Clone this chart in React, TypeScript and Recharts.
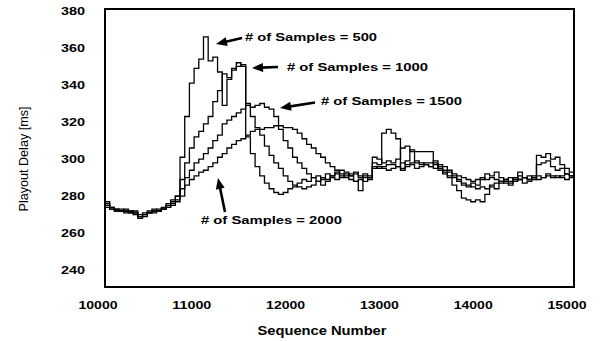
import React from 'react';
import { LineChart, Line, XAxis, YAxis, ReferenceArea } from 'recharts';

const sequence = [
  10000, 10050, 10100, 10150, 10200, 10250, 10300, 10350, 10400, 10450,
  10500, 10550, 10600, 10650, 10700, 10750, 10800, 10850, 10900, 10950,
  11000, 11050, 11100, 11150, 11200, 11250, 11300, 11350, 11400, 11450,
  11500, 11550, 11600, 11650, 11700, 11750, 11800, 11850, 11900, 11950,
  12000, 12050, 12100, 12150, 12200, 12250, 12300, 12350, 12400, 12450,
  12500, 12550, 12600, 12650, 12700, 12750, 12800, 12850, 12900, 12950,
  13000, 13050, 13100, 13150, 13200, 13250, 13300, 13350, 13400, 13450,
  13500, 13550, 13600, 13650, 13700, 13750, 13800, 13850, 13900, 13950,
  14000, 14050, 14100, 14150, 14200, 14250, 14300, 14350, 14400, 14450,
  14500, 14550, 14600, 14650, 14700, 14750, 14800, 14850, 14900, 14950,
  15000,
];

const samples500 = [
  275, 273, 272, 272, 271, 271, 270, 268, 269, 271,
  272, 271, 272, 275, 276, 279, 300, 322, 340, 348,
  353, 365, 352, 354, 346, 328, 342, 347, 349, 350,
  311, 302, 295, 290, 286, 283, 281, 280, 281, 283,
  284, 286, 288, 287, 289, 290, 288, 291, 290, 292,
  289, 291, 290, 287, 282, 289, 288, 297, 296, 313,
  315, 313, 310, 293, 298, 304, 303, 303, 303, 303,
  296, 294, 291, 289, 285, 282, 278, 277, 276, 277,
  276, 280, 284, 283, 286, 287, 286, 288, 292, 289,
  288, 290, 301, 300, 302, 299, 300, 296, 294, 292,
  294,
];

const samples1000 = [
  274, 272, 272, 271, 271, 270, 270, 267, 268, 270,
  271, 272, 273, 274, 277, 279, 288, 297, 305, 311,
  314, 318, 322, 330, 336, 345, 343, 348, 351, 349,
  329, 322, 316, 312, 306, 301, 297, 294, 290, 287,
  285, 284, 283, 284, 285, 287, 289, 288, 290, 291,
  293, 292, 290, 291, 289, 290, 289, 300, 299, 297,
  298, 297, 299, 305, 306, 303, 297, 296, 297, 297,
  298, 295, 293, 292, 290, 287, 285, 284, 286, 285,
  288, 291, 290, 292, 289, 286, 285, 287, 288, 286,
  287, 288, 296, 297, 298, 295, 293, 294, 291, 290,
  293,
];

const samples1500 = [
  276, 273, 271, 271, 272, 271, 269, 268, 270, 270,
  271, 271, 272, 273, 275, 277, 283, 289, 293, 297,
  299, 302, 305, 309, 312, 318, 320, 322, 324, 326,
  328, 327, 328, 329, 327, 326, 322, 315, 309, 305,
  300, 297, 294, 291, 289, 287, 285, 287, 289, 288,
  290, 289, 288, 287, 288, 287, 289, 295, 294, 295,
  296, 296, 295, 297, 296, 297, 298, 297, 296, 295,
  297, 293, 292, 290, 289, 288, 286, 285, 284, 283,
  284, 283, 285, 286, 287, 288, 287, 289, 288, 289,
  290, 289, 290, 289, 291, 290, 289, 290, 291, 290,
  289,
];

const samples2000 = [
  273, 272, 271, 271, 270, 270, 271, 269, 269, 270,
  270, 271, 272, 273, 274, 276, 279, 285, 288, 290,
  292, 293, 295, 297, 300, 302, 305, 307, 309, 310,
  312, 314, 315, 315, 316, 316, 317, 317, 316, 316,
  315, 313, 310, 307, 305, 302, 300, 297, 295, 293,
  291, 290, 291, 292, 290, 291, 290, 294, 295, 294,
  293, 294, 295, 294, 295, 296, 294, 295, 296, 295,
  294, 296, 295, 293, 291, 290, 289, 288, 287, 288,
  289, 288, 289, 288, 287, 288, 289, 288, 290, 289,
  288, 289, 288, 289, 290, 289, 290, 289, 288, 289,
  290,
];

const xTicks = [10000, 11000, 12000, 13000, 14000, 15000];
const yTicks = [240, 260, 280, 300, 320, 340, 360, 380];

const data = sequence.map((seq, i) => ({
  seq,
  s500: samples500[i],
  s1000: samples1000[i],
  s1500: samples1500[i],
  s2000: samples2000[i],
}));

const FONT = '"Liberation Sans", Arial, Helvetica, sans-serif';

const XTick = (props: any) => {
  const { x, payload } = props;
  const label = String(payload.value);
  return (
    <text
      x={x - 7}
      y={309}
      textAnchor="middle"
      fontFamily={FONT}
      fontWeight="bold"
      fontSize={11}
      fill="#000"
      textLength={label.length * 7.8}
      lengthAdjust="spacingAndGlyphs"
    >
      {label}
    </text>
  );
};

const YTick = (props: any) => {
  const { y, payload } = props;
  const label = String(payload.value);
  return (
    <text
      x={85}
      y={y + 6}
      textAnchor="end"
      fontFamily={FONT}
      fontWeight="bold"
      fontSize={11}
      fill="#000"
      textLength={label.length * 8}
      lengthAdjust="spacingAndGlyphs"
    >
      {label}
    </text>
  );
};

const Arrow = ({ x1, y1, x2, y2 }: { x1: number; y1: number; x2: number; y2: number }) => {
  const dx = x2 - x1;
  const dy = y2 - y1;
  const len = Math.sqrt(dx * dx + dy * dy);
  const ux = dx / len;
  const uy = dy / len;
  const hl = 11;
  const hw = 4.5;
  const bx = x2 - ux * hl;
  const by = y2 - uy * hl;
  const pts = `${x2},${y2} ${bx - uy * hw},${by + ux * hw} ${bx + uy * hw},${by - ux * hw}`;
  return (
    <g>
      <line x1={x1} y1={y1} x2={bx + ux * 2} y2={by + uy * 2} stroke="#000" strokeWidth={2.6} />
      <polygon points={pts} fill="#000" />
    </g>
  );
};

const Note = ({ x, y, w, text }: { x: number; y: number; w: number; text: string }) => (
  <text
    x={x}
    y={y}
    fontFamily={FONT}
    fontWeight="bold"
    fontSize={11}
    fill="#000"
    textLength={w}
    lengthAdjust="spacingAndGlyphs"
  >
    {text}
  </text>
);

export default function App() {
  return (
    <div style={{ position: 'absolute', left: 0, top: 0, width: 611, height: 341, background: '#fff' }}>
      <LineChart
        width={611}
        height={341}
        data={data}
        margin={{ top: 9, right: 37, bottom: 24, left: 45 }}
      >
        <XAxis
          dataKey="seq"
          type="number"
          domain={[10000, 15000]}
          ticks={xTicks}
          axisLine={false}
          tickLine={false}
          height={30}
          tick={<XTick />}
          interval={0}
        />
        <YAxis
          type="number"
          domain={[230, 380]}
          ticks={yTicks}
          axisLine={false}
          tickLine={false}
          width={60}
          tick={<YTick />}
          interval={0}
        />
        <Line type="stepAfter" dataKey="s500" stroke="#000" strokeWidth={1.3} dot={false} isAnimationActive={false} />
        <Line type="stepAfter" dataKey="s1000" stroke="#000" strokeWidth={1.3} dot={false} isAnimationActive={false} />
        <Line type="stepAfter" dataKey="s1500" stroke="#000" strokeWidth={1.3} dot={false} isAnimationActive={false} />
        <Line type="stepAfter" dataKey="s2000" stroke="#000" strokeWidth={1.3} dot={false} isAnimationActive={false} />
        <ReferenceArea
          x1={10000}
          x2={15000}
          y1={230}
          y2={380}
          fill="none"
          fillOpacity={0}
          stroke="#000"
          strokeWidth={2}
          strokeOpacity={1}
        />
      </LineChart>
      <svg
        width={611}
        height={341}
        style={{ position: 'absolute', left: 0, top: 0, pointerEvents: 'none' }}
      >
        <text
          transform="translate(28,159) rotate(-90)"
          textAnchor="middle"
          fontFamily={FONT}
          fontSize={12.5}
          fill="#000"
          textLength={105}
          lengthAdjust="spacingAndGlyphs"
        >
          Playout Delay [ms]
        </text>
        <text
          x={322}
          y={335}
          textAnchor="middle"
          fontFamily={FONT}
          fontWeight="bold"
          fontSize={12}
          fill="#000"
          textLength={129}
          lengthAdjust="spacingAndGlyphs"
        >
          Sequence Number
        </text>
        <Note x={245} y={41} w={132} text="# of Samples = 500" />
        <Arrow x1={242} y1={38} x2={216} y2={44} />
        <Note x={287} y={71} w={141} text="# of Samples = 1000" />
        <Arrow x1={278} y1={67} x2={252} y2={68} />
        <Note x={321} y={105} w={141} text="# of Samples = 1500" />
        <Arrow x1={315} y1={102.5} x2={280} y2={108} />
        <Note x={201} y={224} w={141} text="# of Samples = 2000" />
        <Arrow x1={225} y1={212} x2={218} y2={178} />
      </svg>
    </div>
  );
}
